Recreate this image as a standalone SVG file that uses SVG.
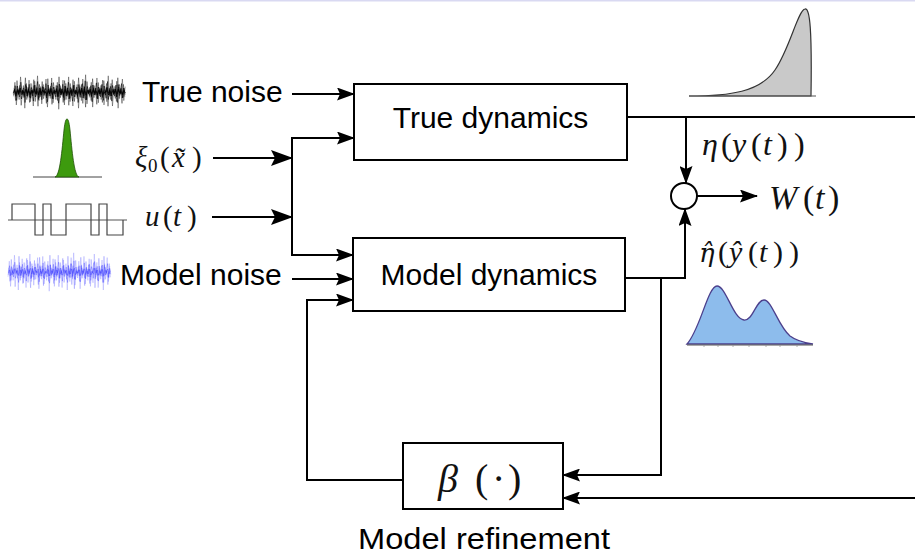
<svg xmlns="http://www.w3.org/2000/svg" xmlns:xlink="http://www.w3.org/1999/xlink" width="915" height="557" viewBox="0 0 915 557">
<style>
.box{fill:#fff;stroke:#000;stroke-width:2}
.lbl{font-family:"Liberation Sans",Arial,sans-serif;font-size:30px;fill:#000}
.math{font-family:"Liberation Serif","DejaVu Serif",serif;fill:#111}
.it{font-style:italic}
.dv{font-family:"DejaVu Serif",serif}
.wire{fill:none;stroke:#000;stroke-width:2}
.arr{marker-end:url(#ah)}
.arrb{marker-end:url(#ahb)}
.noise{fill:none;stroke-width:0.8;vector-effect:non-scaling-stroke;stroke-linejoin:round}
</style>
<defs>
<marker id="ah" viewBox="0 0 18 13" refX="17" refY="6.5" markerWidth="18" markerHeight="13" markerUnits="userSpaceOnUse" orient="auto"><path d="M0,0 L18,6.5 L0,13 L3,6.5 Z" fill="#000"/></marker>
<marker id="ahb" viewBox="0 0 22 16" refX="21" refY="8" markerWidth="22" markerHeight="16" markerUnits="userSpaceOnUse" orient="auto"><path d="M0,0 L22,8 L0,16 L4,8 Z" fill="#000"/></marker>
<path id="nz" class="noise" d="M0,4 1.4,-9 2.8,12 4.2,-3 5.6,7 7,-14 8.4,2 9.8,-6 11.2,15 12.6,-8 14,5 15.4,-11 16.8,9 18.2,-2 19.6,13 21,-10 22.4,3 23.8,-15 25.2,8 26.6,-5 28,11 29.4,-7 30.8,1 32.2,-12 33.6,14 35,-4 36.4,6 37.8,-13 39.2,10 40.6,-1 42,7 43.4,-9 44.8,16 46.2,-6 47.6,3 49,-11 50.4,12 51.8,-8 53.2,4 54.6,-14 56,9 57.4,-3 58.8,13 60.2,-10 61.6,2 63,-7 64.4,15 65.8,-5 67.2,8 68.6,-12 70,6 71.4,-16 72.8,11 74.2,-2 75.6,5 77,-9 78.4,14 79.8,-6 81.2,3 82.6,-13 84,10 85.4,-4 86.8,7 88.2,-11 89.6,12 91,-1 92.4,9 93.8,-15 95.2,4 96.6,-8 98,13 99.4,-3 100.8,6 102.2,-10 103.6,15 105,-7 106.4,2 107.8,-12 109.2,8 110.6,-5"/>
</defs>
<rect width="915" height="557" fill="#fff"/>
<rect x="0" y="0" width="915" height="1.5" fill="#d9d9f2"/>

<g id="true-noise-icon">
<use xlink:href="#nz" href="#nz" stroke="#000" stroke-opacity="0.45" transform="translate(13.5,92) scale(1.01,1.08)"/>
<use xlink:href="#nz" href="#nz" stroke="#000" stroke-opacity="0.5" transform="translate(14.2,92) scale(1.0,-0.95)"/>
<use xlink:href="#nz" href="#nz" stroke="#000" stroke-opacity="0.7" transform="translate(13.8,92) scale(1.0,0.7)"/>
<use xlink:href="#nz" href="#nz" stroke="#000" stroke-opacity="0.8" transform="translate(14.5,92) scale(1.0,-0.5)"/>
<use xlink:href="#nz" href="#nz" stroke="#000" stroke-opacity="0.9" transform="translate(13.2,92) scale(1.0,0.3)"/>
<use xlink:href="#nz" href="#nz" stroke="#000" stroke-opacity="0.9" transform="translate(14.8,92) scale(1.0,-0.2)"/>
</g>
<g id="true-noise-label"><text class="lbl" x="142" y="102">True noise</text></g>

<g id="xi0-icon">
<line x1="33" y1="177" x2="102" y2="177" stroke="#444" stroke-width="1"/>
<path d="M55,177 C60,176 62,150 64,130 C65,121 66,119 67,119 C68,119 69,121 70,130 C72,150 74,176 79,177 Z" fill="#3d9a0e" stroke="#1e5005" stroke-width="0.8"/>
</g>
<g id="xi0-label">
<text class="math" font-size="29"><tspan class="it" x="135" y="167">ξ</tspan><tspan x="148" y="172" font-size="19">0</tspan><tspan x="160" y="167">(</tspan><tspan class="it" x="172" y="167">x̃</tspan><tspan x="192" y="167">)</tspan></text>
</g>

<g id="u-icon">
<line x1="8" y1="220" x2="127" y2="220" stroke="#555" stroke-width="1.2"/>
<path d="M12,220 V204 H35 V235 H43 V204 H51 V235 H66 V204 H91 V235 H99 V204 H107 V235 H123 V220" fill="none" stroke="#444" stroke-width="1.2"/>
</g>
<g id="u-label"><text class="math" font-size="29" y="226"><tspan class="it" x="145">u</tspan><tspan x="163">(</tspan><tspan class="it" x="173">t</tspan><tspan x="187">)</tspan></text></g>

<g id="model-noise-icon">
<use xlink:href="#nz" href="#nz" stroke="#3a3aff" stroke-opacity="0.25" transform="translate(8,272) scale(0.92,1.2)"/>
<use xlink:href="#nz" href="#nz" stroke="#3a3aff" stroke-opacity="0.3" transform="translate(8.7,272) scale(0.92,-1.05)"/>
<use xlink:href="#nz" href="#nz" stroke="#3a3aff" stroke-opacity="0.4" transform="translate(8.3,272) scale(0.92,0.7)"/>
<use xlink:href="#nz" href="#nz" stroke="#3a3aff" stroke-opacity="0.45" transform="translate(9,272) scale(0.92,-0.45)"/>
<use xlink:href="#nz" href="#nz" stroke="#3a3aff" stroke-opacity="0.5" transform="translate(8.5,272) scale(0.92,0.25)"/>
</g>
<g id="model-noise-label"><text class="lbl" x="120" y="285">Model noise</text></g>

<g id="true-dynamics">
<rect class="box" x="354" y="84" width="273" height="76"/>
<text class="lbl" x="490.5" y="128" text-anchor="middle">True dynamics</text>
</g>
<g id="model-dynamics">
<rect class="box" x="353" y="238" width="272" height="73"/>
<text class="lbl" x="489" y="285" text-anchor="middle">Model dynamics</text>
</g>
<g id="model-refinement">
<rect class="box" x="403" y="443" width="160" height="66" stroke-width="1.5"/>
<text class="math" font-size="40" y="492"><tspan class="it" x="438">β</tspan><tspan x="475">(</tspan><tspan x="492">·</tspan><tspan x="508">)</tspan></text>
<text class="lbl" x="358" y="549" font-size="31" textLength="252" lengthAdjust="spacingAndGlyphs">Model refinement</text>
</g>
<g id="comparator">
<circle cx="684" cy="196" r="13" fill="#fff" stroke="#000" stroke-width="2"/>
</g>
<g id="true-output-dist">
<path d="M689,96 C730,96 760,92 775,70 C790,48 798,10 805,9 C810,8 812,30 811,96 Z" fill="#c9c9c9" stroke="#333" stroke-width="1.2"/>
<line x1="689" y1="96" x2="816" y2="96" stroke="#555" stroke-width="1.2"/>
</g>
<g id="model-output-dist">
<path d="M687,344 C700,330 708,286 717,286 C726,286 733,319 744,320 C753,321 756,300 764,300 C772,300 778,326 790,336 C798,342 806,343 813,344 Z" fill="#8dbcec" stroke="#4b3f8c" stroke-width="1.3"/>
<line x1="687" y1="345" x2="813" y2="345" stroke="#555" stroke-width="1"/>
<path d="M704,345v2M718,345v2M733,345v2M749,345v2M766,345v2M780,345v2M797,345v2" stroke="#999" stroke-width="0.8"/>
</g>
<g id="eta-label"><text class="math" font-size="32" y="155"><tspan class="it" x="702">η</tspan><tspan x="721">(</tspan><tspan class="it" x="732">y</tspan><tspan x="751">(</tspan><tspan class="it" x="763">t</tspan><tspan x="777">)</tspan><tspan x="794">)</tspan></text></g>
<g id="eta-hat-label">
<text class="math" font-size="30" y="262"><tspan class="it dv" x="699" font-size="26">η̂</tspan><tspan x="718">(</tspan><tspan class="it" x="729">ŷ</tspan><tspan x="748">(</tspan><tspan class="it" x="759">t</tspan><tspan x="773">)</tspan><tspan x="789">)</tspan></text>
</g>
<g id="w-label"><text class="math" font-size="34" y="209"><tspan class="it" x="769">W</tspan><tspan x="803">(</tspan><tspan class="it" x="815">t</tspan><tspan x="828">)</tspan></text></g>

<g id="connectors">
<path class="wire arr" d="M292,94 H354"/>
<path class="wire arrb" d="M213,158 H292"/>
<path class="wire arrb" d="M212,217 H292"/>
<path class="wire arr" d="M292,160 V138 H354"/>
<path class="wire arr" d="M292,138 V255 H353"/>
<path class="wire arr" d="M292,279 H353"/>
<path class="wire arr" d="M403,480 H307 V300 H353"/>
<path class="wire" d="M627,117 H915"/>
<path class="wire arr" d="M686,117 V183"/>
<path class="wire arr" d="M697,196 H757"/>
<path class="wire arr" d="M625,278 H685 V209"/>
<path class="wire arr" d="M661,278 V475 H563"/>
<path class="wire arr" d="M915,498 H563"/>
</g>
</svg>
